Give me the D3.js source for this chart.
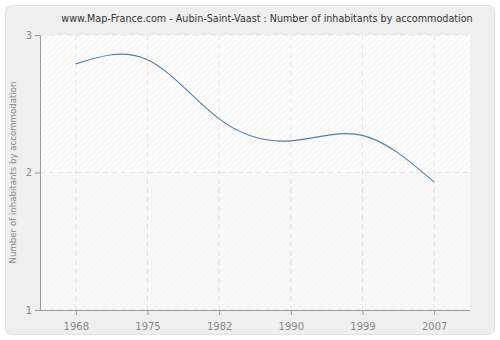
<!DOCTYPE html>
<html><head><meta charset="utf-8">
<script src="https://cdn.jsdelivr.net/npm/d3@7"></script>
<style>body{margin:0;background:#fff}svg{display:block}text{font-family:"DejaVu Sans",Verdana,sans-serif}</style>
</head><body><svg id="c" width="500" height="340"></svg>
<script>
const years = ["1968","1975","1982","1990","1999","2007"];
const values = [2.79, 2.82, 2.39, 2.23, 2.27, 1.93];
const yTicks = [1, 2, 3];
const title = "www.Map-France.com - Aubin-Saint-Vaast : Number of inhabitants by accommodation";
const yLabel = "Number of inhabitants by accommodation";

const svg = d3.select("#c");
const m = {l:40, r:470, t:35, b:310};
const defs = svg.append("defs");
const pat = defs.append("pattern").attr("id","hatch").attr("patternUnits","userSpaceOnUse")
  .attr("width",6).attr("height",6);
pat.append("rect").attr("width",6).attr("height",6).attr("fill","#fdfdfd");
pat.append("path").attr("d","M-1,7 L7,-1 M-1,1 L1,-1 M5,7 L7,5").attr("stroke","#ececec").attr("stroke-width",0.8);
const pat2 = defs.append("pattern").attr("id","hatch2").attr("patternUnits","userSpaceOnUse")
  .attr("width",6).attr("height",6);
pat2.append("rect").attr("width",6).attr("height",6).attr("fill","#f9f9f9");
pat2.append("path").attr("d","M-1,7 L7,-1 M-1,1 L1,-1 M5,7 L7,5").attr("stroke","#f3f3f3").attr("stroke-width",0.8);

svg.append("rect").attr("x",5.5).attr("y",5.5).attr("width",489).attr("height",329).attr("rx",6)
  .attr("fill","#efefef").attr("stroke","#e2e2e2");

const x = d3.scalePoint().domain(years).range([m.l, m.r]).padding(0.5);
const y = d3.scaleLinear().domain([1,3]).range([m.b, m.t]);

svg.append("rect").attr("x",m.l).attr("y",m.t).attr("width",m.r-m.l).attr("height",y(2)-m.t).attr("fill","url(#hatch)");
svg.append("rect").attr("x",m.l).attr("y",y(2)).attr("width",m.r-m.l).attr("height",m.b-y(2)).attr("fill","url(#hatch2)");

const grid = svg.append("g").attr("stroke","#e2e2e2").attr("stroke-dasharray","5,4");
years.forEach(yr => grid.append("line").attr("x1",x(yr)).attr("x2",x(yr)).attr("y1",m.t).attr("y2",m.b));
yTicks.forEach(t => grid.append("line").attr("x1",m.l).attr("x2",m.r).attr("y1",y(t)).attr("y2",y(t)));

const line = d3.line().x((d,i)=>x(years[i])).y(d=>y(d)).curve(d3.curveNatural);
svg.append("path").datum(values).attr("d",line).attr("fill","none").attr("stroke","#4f7cb0").attr("stroke-width",1.1);

const xa = svg.append("g").attr("transform",`translate(0,${m.b})`).call(d3.axisBottom(x).tickSize(5).tickSizeOuter(0));
const ya = svg.append("g").attr("transform",`translate(${m.l},0)`).call(d3.axisLeft(y).tickValues(yTicks).tickFormat(d3.format("d")).tickSize(5).tickSizeOuter(0));
[xa,ya].forEach(a=>{
  a.select(".domain").attr("stroke","#999");
  a.selectAll(".tick line").attr("stroke","#999");
  a.selectAll(".tick text").attr("fill","#888").attr("font-size",10).attr("font-family","'DejaVu Sans',Verdana,sans-serif");
});
xa.select(".domain").attr("d",`M${m.l},0.5H${m.r}`);
xa.selectAll(".tick text").attr("dy","1.2em");

svg.append("text").attr("x",267).attr("y",22).attr("text-anchor","middle").attr("font-size",9.6).attr("fill","#333").text(title);
svg.append("text").attr("transform",`translate(16,${(m.t+m.b)/2}) rotate(-90)`).attr("text-anchor","middle")
  .attr("font-size",8.6).attr("fill","#888").text(yLabel);
</script></body></html>
